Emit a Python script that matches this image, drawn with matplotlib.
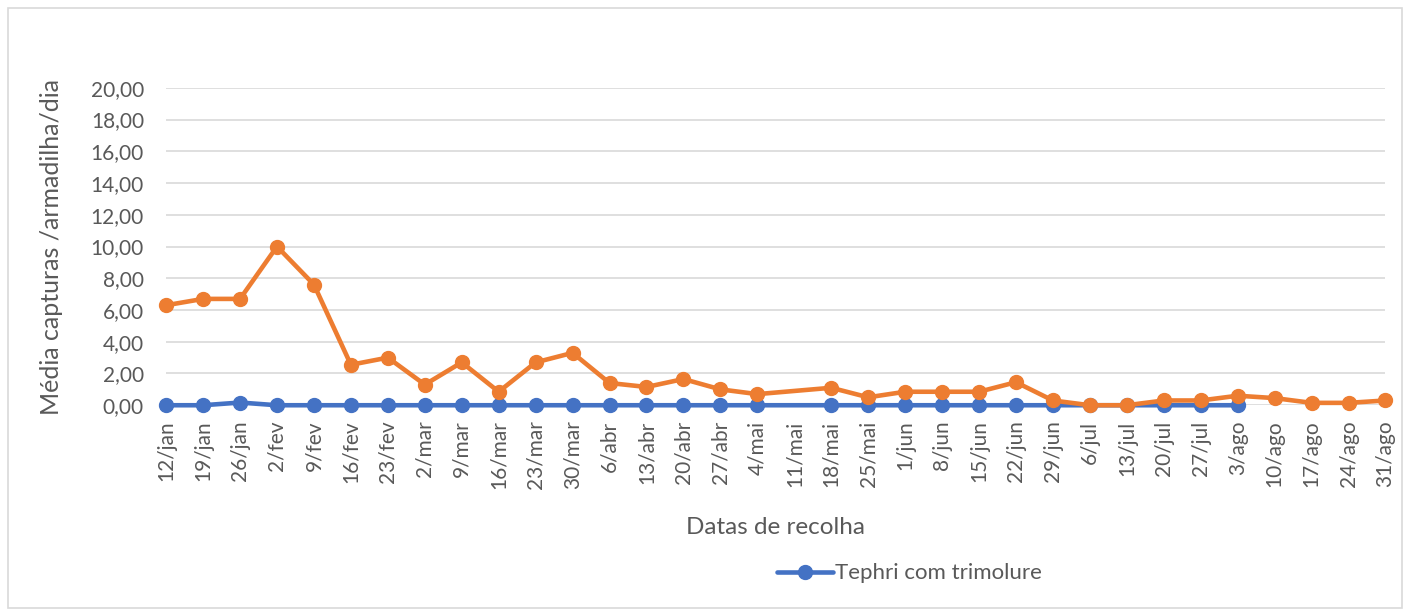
import numpy as np
import matplotlib.pyplot as plt
from matplotlib.patches import Rectangle

plt.rcParams['font.family'] = ['Lato', 'DejaVu Sans']

# Dates and series
datas = ['12/jan', '19/jan', '26/jan', '2/fev', '9/fev', '16/fev', '23/fev', '2/mar',
         '9/mar', '16/mar', '23/mar', '30/mar', '6/abr', '13/abr', '20/abr', '27/abr',
         '4/mai', '11/mai', '18/mai', '25/mai', '1/jun', '8/jun', '15/jun', '22/jun',
         '29/jun', '6/jul', '13/jul', '20/jul', '27/jul', '3/ago', '10/ago', '17/ago',
         '24/ago', '31/ago']
nan = np.nan
tephri = [0, 0, 0.17, 0, 0, 0, 0, 0, 0, 0, 0, 0, 0, 0, 0, 0,
          0, nan, 0, 0, 0, 0, 0, 0, 0, 0, 0, 0, 0, 0, nan, nan, nan, nan]
outra = [6.3, 6.7, 6.7, 10.0, 7.6, 2.55, 3.0, 1.3, 2.7, 0.85, 2.7, 3.3, 1.4, 1.15, 1.65, 1.0,
         0.7, nan, 1.1, 0.5, 0.85, 0.85, 0.85, 1.45, 0.3, 0.0, 0.0, 0.3, 0.3, 0.6, 0.45, 0.15,
         0.15, 0.3]

x = np.arange(len(datas))
t = np.array(tephri, dtype=float)
o = np.array(outra, dtype=float)
# Excel connects across the empty cell
mt = ~np.isnan(t)
mo = ~np.isnan(o)

fig = plt.figure(figsize=(14.08, 6.14), dpi=100)
ax = fig.add_axes([0.118, 0.340, 0.866, 0.517])

grey = '#595959'
ax.plot(x[mt], t[mt], color='#4472C4', lw=3.3, marker='o', ms=10, label='Tephri com trimolure',
        clip_on=False, zorder=3, solid_capstyle='round')
ax.plot(x[mo], o[mo], color='#ED7D31', lw=3.3, marker='o', ms=10, clip_on=False, zorder=4,
        solid_capstyle='round')

ax.set_xlim(0, len(datas) - 1)
ax.set_ylim(0, 20)
ax.set_yticks(np.arange(0, 21, 2))
ax.set_yticklabels([f'{v:.2f}'.replace('.', ',') for v in np.arange(0, 21, 2)])
ax.set_xticks(x)
ax.set_xticklabels(datas, rotation=90)
ax.tick_params(length=0, labelsize=15, colors=grey)
ax.tick_params(axis='y', pad=16)
ax.tick_params(axis='x', pad=11)
ax.grid(axis='y', color='#D9D9D9', lw=1.2)
ax.set_axisbelow(True)
for s in ax.spines.values():
    s.set_visible(False)

ax.set_ylabel('Média capturas /armadilha/dia', fontsize=18, color=grey, labelpad=20)
ax.set_xlabel('Datas de recolha', fontsize=17.5, color=grey, labelpad=20)

leg = fig.legend(loc='center', bbox_to_anchor=(0.646, 0.066), frameon=False, fontsize=16,
                 handlelength=2.5, handletextpad=0.1)
for txt in leg.get_texts():
    txt.set_color(grey)

fig.patches.append(Rectangle((8 / 1408, 6 / 614), 1394 / 1408, 600 / 614, transform=fig.transFigure,
                             fill=False, edgecolor='#D9D9D9', lw=1.2))

fig.savefig('out.png', dpi=100)
